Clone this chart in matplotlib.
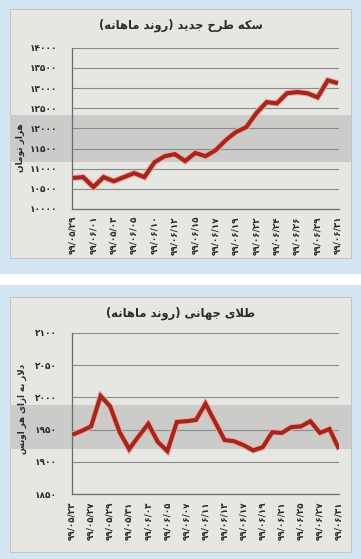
import matplotlib
matplotlib.use("Agg")
import matplotlib.pyplot as plt
import matplotlib.patheffects as pe
from matplotlib.patches import Rectangle

# ---------------- data ----------------
coin_dates = ["۹۹/۰۵/۲۹", "۹۹/۰۶/۰۱", "۹۹/۰۵/۰۳", "۹۹/۰۶/۰۵", "۹۹/۰۶/۱۰",
              "۹۹/۰۶/۱۲", "۹۹/۰۶/۱۵", "۹۹/۰۶/۱۷", "۹۹/۰۶/۱۹", "۹۹/۰۶/۲۲",
              "۹۹/۰۶/۲۴", "۹۹/۰۶/۲۶", "۹۹/۰۶/۲۹", "۹۹/۰۶/۳۱"]
coin_values = [10770, 10790, 10545, 10790, 10690, 10790, 10890, 10790, 11160,
               11310, 11360, 11190, 11390, 11310, 11460, 11710, 11910, 12030,
               12380, 12650, 12620, 12870, 12900, 12870, 12770, 13190, 13120]
coin_ticks = [10000, 10500, 11000, 11500, 12000, 12500, 13000, 13500, 14000]

gold_dates = ["۹۹/۰۵/۲۳", "۹۹/۰۵/۲۷", "۹۹/۰۵/۲۹", "۹۹/۰۵/۳۱", "۹۹/۰۶/۰۳",
              "۹۹/۰۶/۰۵", "۹۹/۰۶/۰۷", "۹۹/۰۶/۱۱", "۹۹/۰۶/۱۳", "۹۹/۰۶/۱۷",
              "۹۹/۰۶/۱۹", "۹۹/۰۶/۲۱", "۹۹/۰۶/۲۵", "۹۹/۰۶/۲۷", "۹۹/۰۶/۳۱"]
gold_values = [1942, 1948, 1955, 2002, 1986, 1946, 1920, 1940, 1959, 1931,
               1917, 1962, 1963, 1965, 1990, 1962, 1934, 1932, 1926, 1918,
               1923, 1946, 1945, 1954, 1955, 1963, 1945, 1951, 1920]
gold_ticks = [1850, 1900, 1950, 2000, 2050, 2100]

coin_title = "سکه طرح جدید (روند ماهانه)"
coin_unit = "هزار تومان"
gold_title = "طلای جهانی (روند ماهانه)"
gold_unit = "دلار به ازای هر اونس"

# ---------------- Persian text shaping ----------------
# (isolated, final, initial, medial); two-form letters join only to the right
FORMS = {
    "ا": ("\uFE8D", "\uFE8E"),
    "ب": ("\uFE8F", "\uFE90", "\uFE91", "\uFE92"),
    "ت": ("\uFE95", "\uFE96", "\uFE97", "\uFE98"),
    "ج": ("\uFE9D", "\uFE9E", "\uFE9F", "\uFEA0"),
    "ح": ("\uFEA1", "\uFEA2", "\uFEA3", "\uFEA4"),
    "د": ("\uFEA9", "\uFEAA"),
    "ر": ("\uFEAD", "\uFEAE"),
    "ز": ("\uFEAF", "\uFEB0"),
    "س": ("\uFEB1", "\uFEB2", "\uFEB3", "\uFEB4"),
    "ط": ("\uFEC1", "\uFEC2", "\uFEC3", "\uFEC4"),
    "ل": ("\uFEDD", "\uFEDE", "\uFEDF", "\uFEE0"),
    "م": ("\uFEE1", "\uFEE2", "\uFEE3", "\uFEE4"),
    "ن": ("\uFEE5", "\uFEE6", "\uFEE7", "\uFEE8"),
    "ه": ("\uFEE9", "\uFEEA", "\uFEEB", "\uFEEC"),
    "و": ("\uFEED", "\uFEEE"),
    "ک": ("\uFB8E", "\uFB8F", "\uFB90", "\uFB91"),
    "ی": ("\uFBFC", "\uFBFD", "\uFBFE", "\uFBFF"),
}
MIRROR = {"(": ")", ")": "("}


def shape(text):
    out = []
    chars = list(text)
    n = len(chars)
    i = 0
    while i < n:
        c = chars[i]
        prev = chars[i - 1] if i > 0 else None
        joins_prev = prev in FORMS and len(FORMS[prev]) == 4
        if c == "ل" and i + 1 < n and chars[i + 1] == "ا":
            out.append("\uFEFC" if joins_prev else "\uFEFB")
            i += 2
            continue
        if c in FORMS:
            f = FORMS[c]
            nxt = chars[i + 1] if i + 1 < n else None
            joins_next = len(f) == 4 and nxt in FORMS
            if joins_prev and joins_next:
                out.append(f[3])
            elif joins_prev:
                out.append(f[1])
            elif joins_next:
                out.append(f[2])
            else:
                out.append(f[0])
        else:
            out.append(MIRROR.get(c, c))
        i += 1
    return "".join(reversed(out))


# ---------------- layout ----------------
W, H = 361, 559
BG = "#d4e5f2"
PANEL = "#e6e6e3"
BAND = "#cbcbca"
LINE = "#a5261e"
HALO = "#eeb0a2"
GRID = "#8a8a8a"
TXT = "#2b2b2b"

plt.rcParams["font.family"] = ["DejaVu Sans"]

fig = plt.figure(figsize=(W / 100, H / 100), dpi=100, facecolor=BG)


def fx(x):
    return x / W


def fy(y):
    return 1 - y / H


def rect(x0, y0, x1, y1, color, z, ec="none"):
    fig.add_artist(Rectangle((fx(x0), fy(y1)), fx(x1) - fx(x0), fy(y0) - fy(y1),
                             transform=fig.transFigure, facecolor=color,
                             edgecolor=ec, lw=0.6, zorder=z))


# white separator strip between the two panels
rect(0, 274, W, 285, "white", -10)
# panels and their grey bands
rect(10, 9, 351, 258, PANEL, -9, ec="#bdbdbd")
rect(10, 115, 351, 162, BAND, -8)
rect(10, 297, 351, 552, PANEL, -9, ec="#bdbdbd")
rect(10, 405, 351, 449, BAND, -8)


def draw(ax_box, values, ticks, labels, step, xlim, title, title_xy, unit,
         unit_xy, unit_size):
    x0, y0, x1, y1 = ax_box
    ax = fig.add_axes([fx(x0), fy(y1), fx(x1) - fx(x0), fy(y0) - fy(y1)])
    ax.set_facecolor("none")
    xs = list(range(len(values)))
    ax.plot(xs, values, color=LINE, lw=3.0, solid_joinstyle="miter",
            solid_capstyle="butt",
            path_effects=[pe.Stroke(linewidth=4.6, foreground=HALO),
                          pe.Normal()], zorder=3)
    ax.set_ylim(ticks[0], ticks[-1])
    ax.set_xlim(*xlim)
    ax.set_yticks(ticks)
    ax.set_yticklabels([str(t).translate(str.maketrans("0123456789", "۰۱۲۳۴۵۶۷۸۹"))
                        for t in ticks],
                       fontsize=6.5, fontweight="bold", color=TXT)
    ax.set_xticks(range(0, len(values), step)[:len(labels)])
    ax.set_xticklabels(labels, rotation=90, fontsize=6.3, fontweight="bold",
                       color=TXT)
    ax.tick_params(axis="y", length=0, pad=11)
    ax.tick_params(axis="x", length=0, pad=5)
    ax.grid(axis="y", color=GRID, lw=0.8)
    ax.set_axisbelow(True)
    for s in ("top", "right"):
        ax.spines[s].set_visible(False)
    for s in ("left", "bottom"):
        ax.spines[s].set_color("#6a6a6a")
        ax.spines[s].set_linewidth(0.9)
    fig.text(fx(title_xy[0]), fy(title_xy[1]), shape(title), ha="center",
             va="center", fontsize=8.3, fontweight="bold", color=TXT)
    fig.text(fx(unit_xy[0]), fy(unit_xy[1]), shape(unit), ha="center",
             va="center", fontsize=unit_size, fontweight="bold", color=TXT,
             rotation=90)
    return ax


draw((72, 47.7, 339, 209), coin_values, coin_ticks, coin_dates, 2, (-0.1, 26.1),
     coin_title, (181, 25), coin_unit, (20, 148), 6.5)
draw((72, 332.7, 339, 494.3), gold_values, gold_ticks, gold_dates, 2, (0, 28),
     gold_title, (180, 313), gold_unit, (22, 409), 6.2)

fig.savefig("out.png", dpi=100, facecolor=BG)
